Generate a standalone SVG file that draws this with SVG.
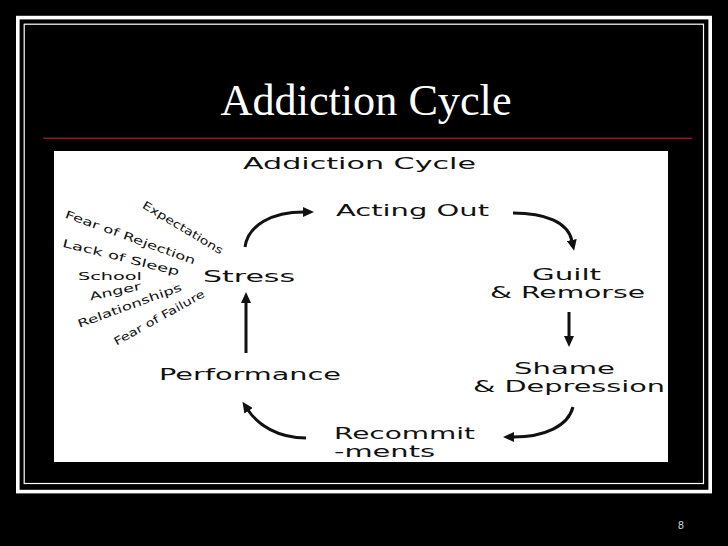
<svg xmlns="http://www.w3.org/2000/svg" width="728" height="546" viewBox="0 0 728 546">
<style>
.lbl{font-family:"DejaVu Sans","Verdana",sans-serif;fill:#111;font-size:16px}
.sm{font-family:"DejaVu Sans","Verdana",sans-serif;fill:#111;font-size:11px}
.conn path{fill:none;stroke:#111;stroke-width:3;stroke-linecap:butt}
</style>
<defs>
<marker id="ah" markerUnits="userSpaceOnUse" markerWidth="11" markerHeight="10" viewBox="0 0 11 10" refX="1" refY="5" orient="auto">
<path d="M0,0 L11,5 L0,10 z" fill="#111"/>
</marker>
</defs>
<rect width="728" height="546" fill="#000"/>
<g id="frame">
<rect x="17.8" y="17.6" width="692.4" height="474" fill="none" stroke="#fff" stroke-width="3.6"/>
<rect x="24.2" y="24.2" width="679.3" height="459.3" fill="none" stroke="#fff" stroke-width="1.2"/>
<line x1="43" y1="138.3" x2="692" y2="138.3" stroke="#7a1e1e" stroke-width="1.5"/>
</g>
<text id="title" x="366" y="115" text-anchor="middle" font-family="'Liberation Serif','Times New Roman',serif" font-size="44" fill="#fff" textLength="291" lengthAdjust="spacingAndGlyphs">Addiction Cycle</text>
<rect id="panel" x="54" y="151" width="614" height="311" fill="#fff"/>
<text id="subtitle" class="lbl" x="243" y="169" font-size="16.5" textLength="233" lengthAdjust="spacingAndGlyphs">Addiction Cycle</text>
<g id="acting-out"><text class="lbl" x="336" y="216" textLength="153" lengthAdjust="spacingAndGlyphs">Acting Out</text></g>
<g id="guilt"><text class="lbl" x="532" y="280" textLength="69" lengthAdjust="spacingAndGlyphs">Guilt</text><text class="lbl" x="490" y="298" textLength="155" lengthAdjust="spacingAndGlyphs">&amp; Remorse</text></g>
<g id="shame"><text class="lbl" x="514" y="374" textLength="101" lengthAdjust="spacingAndGlyphs">Shame</text><text class="lbl" x="473" y="392" textLength="192" lengthAdjust="spacingAndGlyphs">&amp; Depression</text></g>
<g id="recommit"><text class="lbl" x="334" y="439" textLength="141" lengthAdjust="spacingAndGlyphs">Recommit</text><text class="lbl" x="334" y="457" textLength="101" lengthAdjust="spacingAndGlyphs">-ments</text></g>
<g id="performance"><text class="lbl" x="159" y="380" textLength="182" lengthAdjust="spacingAndGlyphs">Performance</text></g>
<g id="stress"><text class="lbl" x="203" y="282" textLength="92" lengthAdjust="spacingAndGlyphs">Stress</text></g>
<g id="factors">
<text class="sm" text-anchor="middle" x="181" y="231" transform="rotate(31 181 231)" textLength="92" lengthAdjust="spacingAndGlyphs">Expectations</text>
<text class="sm" text-anchor="middle" x="129" y="241" transform="rotate(20 129 241)" textLength="138" lengthAdjust="spacingAndGlyphs">Fear of Rejection</text>
<text class="sm" text-anchor="middle" x="120" y="261" transform="rotate(14 120 261)" textLength="120" lengthAdjust="spacingAndGlyphs">Lack of Sleep</text>
<text class="sm" text-anchor="middle" x="110" y="280" textLength="64" lengthAdjust="spacingAndGlyphs">School</text>
<text class="sm" text-anchor="middle" x="116" y="295" transform="rotate(-12 116 295)" textLength="52" lengthAdjust="spacingAndGlyphs">Anger</text>
<text class="sm" text-anchor="middle" x="131" y="309" transform="rotate(-20 131 309)" textLength="110" lengthAdjust="spacingAndGlyphs">Relationships</text>
<text class="sm" text-anchor="middle" x="161" y="321" transform="rotate(-29 161 321)" textLength="102" lengthAdjust="spacingAndGlyphs">Fear of Failure</text>
</g>
<g id="connectors" class="conn">
<path d="M245,247 C248,225 272,212 304,212" marker-end="url(#ah)"/>
<path d="M513,213 C545,213 568,222 572,241" marker-end="url(#ah)"/>
<path d="M569,312 L569,337" marker-end="url(#ah)"/>
<path d="M573,407 C568,426 545,437 513,437" marker-end="url(#ah)"/>
<path d="M306,438 C278,438 258,425 248,410" marker-end="url(#ah)"/>
<path d="M246,353 L246,302" marker-end="url(#ah)"/>
</g>
<text id="page" x="681" y="529" text-anchor="middle" font-family="'DejaVu Sans',sans-serif" font-size="10" fill="#ccc">8</text>
</svg>
